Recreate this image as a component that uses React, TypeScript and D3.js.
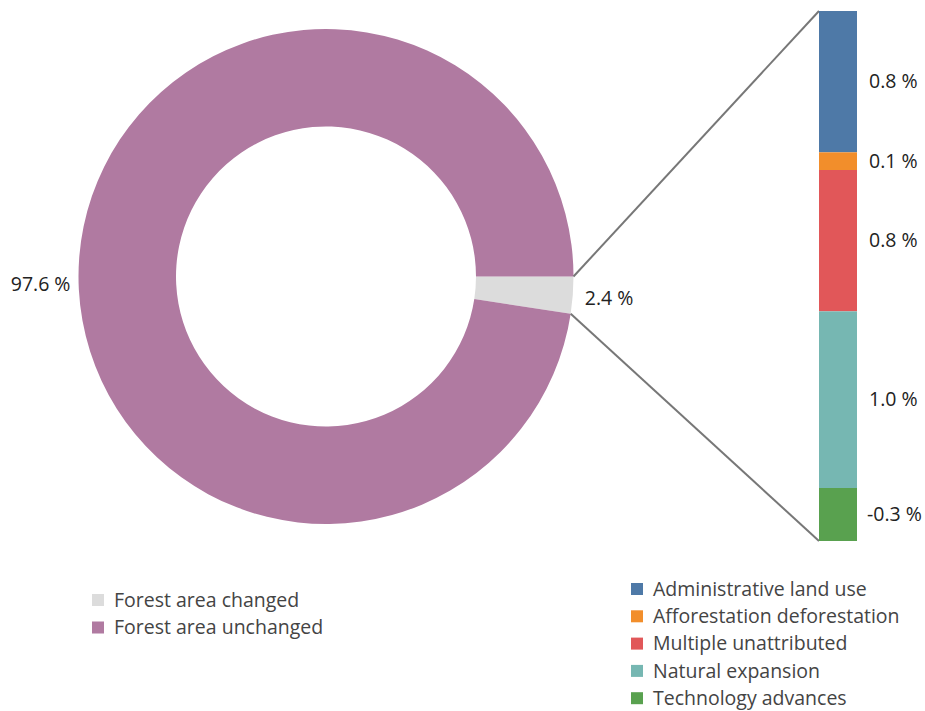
import { useEffect, useRef } from 'react';
import * as d3 from 'd3';

// donut data
const donutLabels = ['Forest area changed', 'Forest area unchanged'];
const donutValues = [2.4, 97.6];
const donutColors = ['#dcdcdc', '#b07aa1'];

// breakdown of the changed area
const causes = [
  'Administrative land use',
  'Afforestation deforestation',
  'Multiple unattributed',
  'Natural expansion',
  'Technology advances',
];
const causeValues = [0.8, 0.1, 0.8, 1.0, -0.3];
const causeColors = ['#4e79a7', '#f28e2b', '#e15759', '#76b7b2', '#59a14f'];

export default function App() {
  const svgRef = useRef<SVGSVGElement | null>(null);

  useEffect(() => {
    const width = 925;
    const height = 711;
    const cx = 326;
    const cy = 276.5;
    const outerR = 247.5;
    const innerR = 150;
    const font = '"Open Sans", "Noto Sans", sans-serif';
    const labelSize = 19.5;
    const legendSize = 19.5;

    const svg = d3.select(svgRef.current);
    svg.selectAll('*').remove();
    svg.attr('width', width).attr('height', height);

    // Donut
    const pie = d3
      .pie<number>()
      .sort(null)
      .startAngle(Math.PI / 2)
      .endAngle(Math.PI / 2 + 2 * Math.PI)
      .value((d) => d);
    const arcs = pie(donutValues);
    const arc = d3.arc<d3.PieArcDatum<number>>().innerRadius(innerR).outerRadius(outerR);

    const g = svg.append('g').attr('transform', `translate(${cx},${cy})`);
    g.selectAll('path')
      .data(arcs)
      .join('path')
      .attr('d', arc)
      .attr('fill', (_, i) => donutColors[i]);

    // Stacked bar (absolute sizes)
    const barX = 819;
    const barW = 38;
    const total = d3.sum(causeValues, (v) => Math.abs(v));
    const y = d3.scaleLinear().domain([0, total]).range([11, 541]);
    let acc = 0;
    const segs = causeValues.map((v, i) => {
      const y0 = acc;
      acc += Math.abs(v);
      return { v, i, y0, y1: acc };
    });

    // connector lines from the changed slice to the bar
    const changed = arcs[0];
    const pt = (a: number) => [cx + outerR * Math.sin(a), cy - outerR * Math.cos(a)];
    const [ax0, ay0] = pt(changed.startAngle);
    const [ax1, ay1] = pt(changed.endAngle);
    svg.append('line')
      .attr('x1', ax0).attr('y1', ay0)
      .attr('x2', barX).attr('y2', y(0))
      .attr('stroke', '#777').attr('stroke-width', 2);
    svg.append('line')
      .attr('x1', ax1).attr('y1', ay1)
      .attr('x2', barX).attr('y2', y(total))
      .attr('stroke', '#777').attr('stroke-width', 2);

    svg.append('g')
      .selectAll('rect')
      .data(segs)
      .join('rect')
      .attr('x', barX)
      .attr('width', barW)
      .attr('y', (d) => y(d.y0))
      .attr('height', (d) => y(d.y1) - y(d.y0))
      .attr('fill', (d) => causeColors[d.i]);

    svg.append('g')
      .selectAll('text')
      .data(segs)
      .join('text')
      .attr('x', (d) => (d.v < 0 ? barX + 48 : barX + 50))
      .attr('y', (d) => (y(d.y0) + y(d.y1)) / 2)
      .attr('dy', '0.35em')
      .attr('font-family', font)
      .attr('font-size', labelSize)
      .attr('fill', '#222')
      .text((d) => `${d.v.toFixed(1)} %`);

    // donut labels
    svg.append('text')
      .attr('x', cx - outerR - 8)
      .attr('y', cy + 8)
      .attr('dy', '0.35em')
      .attr('text-anchor', 'end')
      .attr('font-family', font)
      .attr('font-size', labelSize)
      .attr('fill', '#222')
      .text(`${donutValues[1].toFixed(1)} %`);
    const mid = (changed.startAngle + changed.endAngle) / 2;
    svg.append('text')
      .attr('x', cx + (outerR + 12) * Math.sin(mid))
      .attr('y', cy - (outerR + 12) * Math.cos(mid) + 2)
      .attr('dy', '0.35em')
      .attr('font-family', font)
      .attr('font-size', labelSize)
      .attr('fill', '#222')
      .text(`${donutValues[0].toFixed(1)} %`);

    // legends
    const legL = svg.append('g').attr('transform', 'translate(92,600)');
    donutLabels.forEach((lbl, i) => {
      const row = legL.append('g').attr('transform', `translate(0,${i * 27.5})`);
      row.append('rect').attr('x', 0).attr('y', -6).attr('width', 12).attr('height', 12).attr('fill', donutColors[i]);
      row.append('text')
        .attr('x', 22).attr('dy', '0.35em')
        .attr('font-family', font).attr('font-size', legendSize).attr('fill', '#444')
        .text(lbl);
    });

    const legR = svg.append('g').attr('transform', 'translate(631,589)');
    causes.forEach((lbl, i) => {
      const row = legR.append('g').attr('transform', `translate(0,${i * 27.3})`);
      row.append('rect').attr('x', 0).attr('y', -6).attr('width', 12).attr('height', 12).attr('fill', causeColors[i]);
      row.append('text')
        .attr('x', 22).attr('dy', '0.35em')
        .attr('font-family', font).attr('font-size', legendSize).attr('fill', '#444')
        .text(lbl);
    });
  }, []);

  return (
    <svg
      ref={svgRef}
      style={{ position: 'absolute', left: 0, top: 0, display: 'block', background: '#fff' }}
    />
  );
}
